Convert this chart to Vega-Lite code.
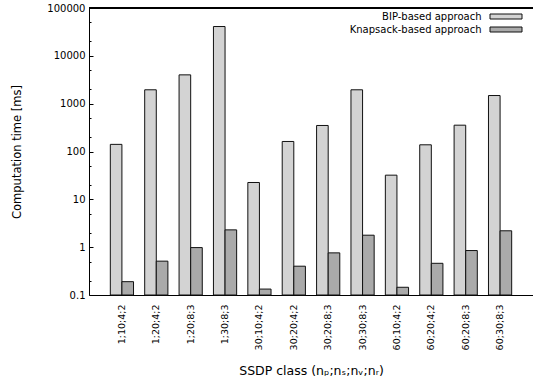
{
  "$schema": "https://vega.github.io/schema/vega-lite/v6.json",
  "autosize": {"type": "none"},
  "padding": {"left": 89, "top": 8, "right": 0, "bottom": 94},
  "width": 444,
  "height": 287,
  "config": {
    "view": {"stroke": null},
    "font": "DejaVu Sans",
    "axis": {"grid": false, "domainColor": "#000", "tickColor": "#000", "labelColor": "#000", "titleColor": "#000", "titleFontWeight": "normal"},
    "legend": {"labelColor": "#000"}
  },
  "data": {
    "values": [
      {"cls": "1;10;4;2", "approach": "BIP-based approach", "time": 141},
      {"cls": "1;10;4;2", "approach": "Knapsack-based approach", "time": 0.19},
      {"cls": "1;20;4;2", "approach": "BIP-based approach", "time": 1950},
      {"cls": "1;20;4;2", "approach": "Knapsack-based approach", "time": 0.51},
      {"cls": "1;20;8;3", "approach": "BIP-based approach", "time": 4000},
      {"cls": "1;20;8;3", "approach": "Knapsack-based approach", "time": 0.98},
      {"cls": "1;30;8;3", "approach": "BIP-based approach", "time": 41000},
      {"cls": "1;30;8;3", "approach": "Knapsack-based approach", "time": 2.3},
      {"cls": "30;10;4;2", "approach": "BIP-based approach", "time": 22.5},
      {"cls": "30;10;4;2", "approach": "Knapsack-based approach", "time": 0.133},
      {"cls": "30;20;4;2", "approach": "BIP-based approach", "time": 162},
      {"cls": "30;20;4;2", "approach": "Knapsack-based approach", "time": 0.4},
      {"cls": "30;20;8;3", "approach": "BIP-based approach", "time": 350},
      {"cls": "30;20;8;3", "approach": "Knapsack-based approach", "time": 0.76},
      {"cls": "30;30;8;3", "approach": "BIP-based approach", "time": 1950},
      {"cls": "30;30;8;3", "approach": "Knapsack-based approach", "time": 1.78},
      {"cls": "60;10;4;2", "approach": "BIP-based approach", "time": 32},
      {"cls": "60;10;4;2", "approach": "Knapsack-based approach", "time": 0.145},
      {"cls": "60;20;4;2", "approach": "BIP-based approach", "time": 138},
      {"cls": "60;20;4;2", "approach": "Knapsack-based approach", "time": 0.46},
      {"cls": "60;20;8;3", "approach": "BIP-based approach", "time": 355},
      {"cls": "60;20;8;3", "approach": "Knapsack-based approach", "time": 0.85},
      {"cls": "60;30;8;3", "approach": "BIP-based approach", "time": 1480},
      {"cls": "60;30;8;3", "approach": "Knapsack-based approach", "time": 2.2}
    ]
  },
  "layer": [
    {
      "mark": {"type": "bar", "stroke": "#111", "strokeWidth": 1},
      "encoding": {
        "x": {
          "field": "cls", "type": "nominal", "sort": null,
          "scale": {"paddingInner": 0.325, "paddingOuter": 0.62},
          "axis": {
            "title": "SSDP class (nₚ;nₛ;nᵥ;nᵣ)",
            "titleFontSize": 12.5, "titlePadding": 15,
            "labelAngle": -90, "labelFontSize": 9.5, "labelPadding": 9,
            "ticks": false, "domainWidth": 1
          }
        },
        "xOffset": {"field": "approach", "type": "nominal", "scale": {"paddingInner": 0, "paddingOuter": 0}},
        "y": {
          "field": "time", "type": "quantitative",
          "scale": {"type": "log", "domain": [0.1, 100000], "nice": false},
          "axis": {
            "title": "Computation time [ms]",
            "titleFontSize": 11.5, "titlePadding": 24,
            "values": [0.1, 0.2, 0.5, 1, 2, 5, 10, 20, 50, 100, 200, 500, 1000, 2000, 5000, 10000, 20000, 50000, 100000],
            "format": "~g",
            "labelExpr": "indexof(['0.1','1','10','100','1000','10000','100000'], datum.label) >= 0 ? datum.label : ''",
            "labelFontSize": 10, "labelPadding": 8,
            "tickSize": {"condition": {"test": "indexof([0.1,1,10,100,1000,10000,100000], datum.value) >= 0", "value": -4}, "value": -2},
            "domainWidth": 1
          }
        },
        "y2": {"datum": 0.1},
        "color": {
          "field": "approach", "type": "nominal",
          "scale": {"range": ["#d3d3d3", "#aaaaaa"]},
          "legend": {
            "title": null, "orient": "none", "legendX": 411.5, "legendY": 3,
            "symbolType": "M-3.2,-0.5H3.2V0.5H-3.2Z", "symbolSize": 100,
            "symbolStrokeColor": "#111", "symbolStrokeWidth": 1,
            "labelAlign": "right", "labelOffset": -30, "labelFontSize": 10,
            "rowPadding": 2, "padding": 0
          }
        }
      }
    },
    {
      "mark": {"type": "rule", "color": "#000", "strokeWidth": 1},
      "encoding": {"y": {"datum": 100000}}
    }
  ]
}
